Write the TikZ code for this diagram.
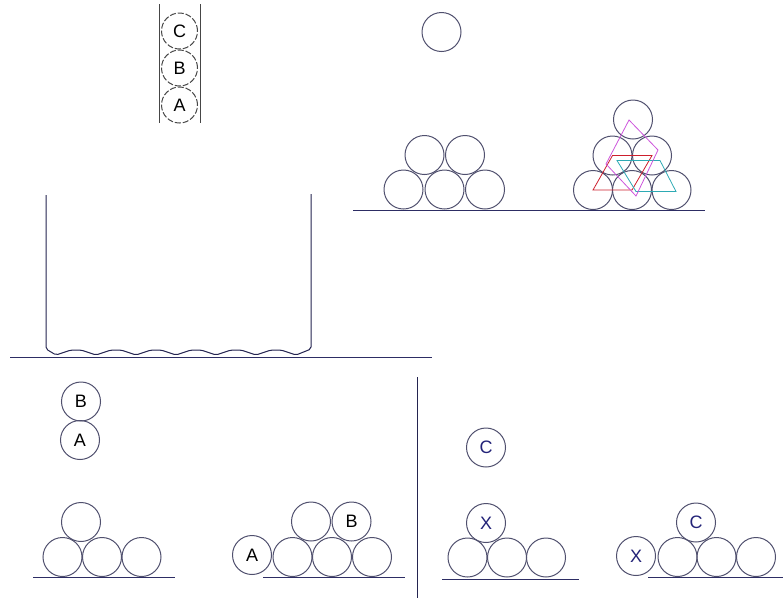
\documentclass[tikz,border=0pt]{standalone}
\usepackage{fontspec}
\setmainfont{Liberation Sans}
\definecolor{ballc}{RGB}{80,80,110}
\definecolor{tubec}{RGB}{70,70,70}
\definecolor{floorc}{RGB}{45,45,100}
\definecolor{navy}{RGB}{35,35,120}
\definecolor{rhombc}{RGB}{205,85,220}
\definecolor{parac}{RGB}{205,30,45}
\definecolor{tealc}{RGB}{45,170,180}

\begin{document}
\begin{tikzpicture}[x=1pt,y=-1pt,
  ball/.style={circle,draw=ballc,line width=1pt,minimum size=39pt,inner sep=0pt,
    font=\fontsize{18}{18}\selectfont},
  tubeball/.style={ball,draw=tubec,dash pattern=on 6pt off 2pt,minimum size=36pt},
  ground/.style={draw=floorc,line width=1pt},
  wall/.style={draw=floorc!80!black,line width=1pt}]
\useasboundingbox (0,0) rectangle (783,598);

% tube with three balls
\node[tubeball] (t3) at (179.5,31) {C};
\node[tubeball] (t2) at (179.5,68) {B};
\node[tubeball] (t1) at (179.5,105) {A};
\draw[tubec,line width=1pt] (159,4) -- (159,123);
\draw[tubec,line width=1pt] (200,4) -- (200,123);

% container
\draw[wall,rounded corners=2pt] (46,195) -- (46,349) -- (56,355)
  \foreach \i in {0,...,5} { -- ({71+40*\i},350) -- ({81+40*\i},350) -- ({96+40*\i},355) }
  -- (311,349) -- (311,194);
\draw[ground] (10,357) -- (432,357);

% top middle pyramid
\node[ball] (f1) at (441.5,32) {};
\foreach \i/\x in {1/403.5,2/444.5,3/485} \node[ball] (a1\i) at (\x,189.5) {};
\foreach \i/\x in {1/424.5,2/465} \node[ball] (a2\i) at (\x,155) {};
\draw[ground] (353,210.5) -- (705,210.5);

% top right pyramid
\foreach \i/\x in {1/593,2/632,3/671.5} \node[ball] (b1\i) at (\x,190) {};
\foreach \i/\x in {1/612.5,2/652} \node[ball] (b2\i) at (\x,155.5) {};
\node[ball] (b31) at (633,119.5) {};
\draw[parac,line width=0.8pt] (b21.center) -- (b22.center) -- (b12.center) -- (b11.center) -- cycle;
\draw[tealc,line width=0.8pt] (617,160.5) -- (660,160.5) -- (676,191.5) -- (636,191.5) -- cycle;
\draw[rhombc,line width=0.8pt] (629,120) -- (658,150) -- (636,196) -- (606,164) -- cycle;

% bottom left
\node[ball] (c2) at (81,401.5) {B};
\node[ball] (c1) at (80,440) {A};
\foreach \i/\x in {1/62.5,2/102,3/141.5} \node[ball] (d1\i) at (\x,557) {};
\node[ball] (d21) at (81,522) {};
\draw[ground] (33,577.5) -- (175,577.5);

% bottom middle
\node[ball] (e0) at (252,555) {A};
\foreach \i/\x in {1/292.5,2/332,3/372} \node[ball] (e1\i) at (\x,557) {};
\node[ball] (e21) at (311,521.5) {};
\node[ball] (e22) at (351.5,521.5) {B};
\draw[ground] (263,577) -- (405,577);

% divider
\draw[floorc!80!black,line width=1pt] (417,377) -- (417,598);

% bottom right
\node[ball,text=navy] (g0) at (486,447.5) {C};
\foreach \i/\x in {1/467.5,2/507,3/546} \node[ball] (g1\i) at (\x,557.5) {};
\node[ball,text=navy] (g21) at (486,523) {X};
\draw[ground] (442,579) -- (579,579);

% far right
\node[ball,text=navy] (h0) at (636,556) {X};
\foreach \i/\x in {1/677.5,2/716.5,3/756} \node[ball] (h1\i) at (\x,557) {};
\node[ball,text=navy] (h21) at (696,522.5) {C};
\draw[ground] (648,577) -- (783,577);
\end{tikzpicture}
\end{document}
